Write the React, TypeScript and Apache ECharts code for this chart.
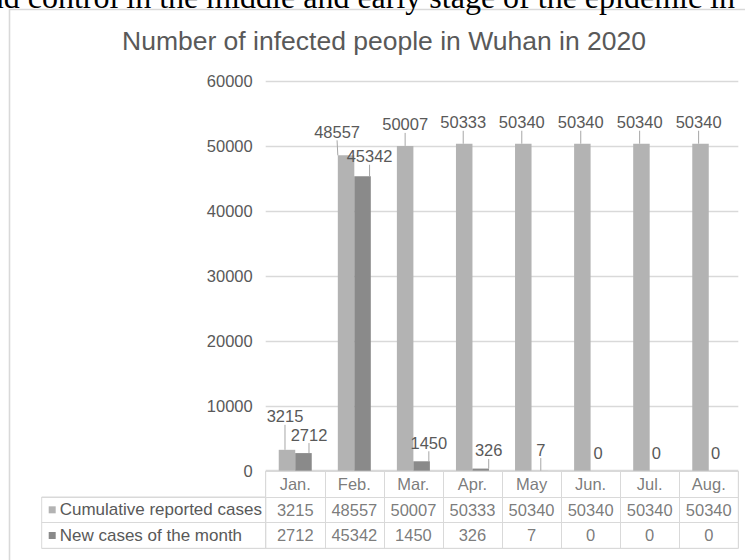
import React, { useEffect, useRef } from "react";
import * as echarts from "echarts";

// ---------- data ----------
const months = ["Jan.", "Feb.", "Mar.", "Apr.", "May", "Jun.", "Jul.", "Aug."];
const cumulativeCases = [3215, 48557, 50007, 50333, 50340, 50340, 50340, 50340];
const newCases = [2712, 45342, 1450, 326, 7, 0, 0, 0];
const seriesNames = ["Cumulative reported cases", "New cases of the month"];
const tableRows = ["month", "cumulative", "new"];
const yMin = 0;
const yMax = 60000;
const yInterval = 10000;
const chartTitle = "Number of infected people in Wuhan in 2020";
const pageTextAbove =
  "prevention and control in the middle and early stage of the epidemic in";

// ---------- layout-only label nudges (dx, dy) ----------
const cumLabelShift = [
  [-2, -20], [-9, -10], [0, -8], [-1, -8], [-1.5, -8], [-1.6, -8], [-1.8, -8], [-1.9, -8],
];
const newLabelShift = [
  [5.5, -5], [7, -6.5], [7.2, -5], [8, -4.6], [1, -7.6], [-0.8, -4.4], [-1.5, -4.4], [-1.3, -4.4],
];

const FONT = '"Liberation Sans", Arial, sans-serif';
const TXT = "#595959";
const BORDER = "#d9d9d9";
const CUM = "#b3b3b3";
const NEW = "#8a8a8a";
const LEADER = "#a6a6a6";

export default function App() {
  const ref = useRef<HTMLDivElement>(null);

  useEffect(() => {
    if (!ref.current) return;
    const chart = echarts.init(ref.current, null, { renderer: "svg" });

    const gridLeft = 265.7;
    const gridRight = 738.3;

    const tableTextSeries = [
      (i: number) => months[i],
      (i: number) => String(cumulativeCases[i]),
      (i: number) => String(newCases[i]),
    ].map((fmt, row) => ({
      type: "scatter",
      xAxisIndex: 1,
      yAxisIndex: 1,
      silent: true,
      symbolSize: 1,
      itemStyle: { color: "transparent" },
      data: months.map((_, i) => [i, row]),
      label: {
        show: true,
        position: "inside",
        color: TXT,
        fontSize: 16.5,
        fontFamily: FONT,
        formatter: (p: any) => fmt(p.dataIndex),
      },
      z: 5,
    }));

    const option: any = {
      animation: false,
      backgroundColor: "#ffffff",
      textStyle: { fontFamily: FONT },
      title: {
        text: chartTitle,
        left: 122,
        top: 27,
        padding: 0,
        textStyle: { fontSize: 26.5, fontWeight: "normal", color: TXT, fontFamily: FONT },
      },
      graphic: [
        {
          type: "rect",
          silent: true,
          shape: { x: 9.5, y: 9.5, width: 800, height: 600 },
          style: { fill: "none", stroke: BORDER, lineWidth: 1.6 },
        },
        {
          type: "text",
          silent: true,
          x: 735,
          y: -3,
          style: {
            text: pageTextAbove,
            fontFamily: '"Liberation Serif", "Times New Roman", serif',
            fontSize: 32,
            fill: "#000000",
            textAlign: "right",
            textVerticalAlign: "middle",
          },
        },
      ],
      grid: [
        { left: gridLeft, width: gridRight - gridLeft, top: 81, height: 389.7, containLabel: false },
        {
          left: gridLeft,
          width: gridRight - gridLeft,
          top: 471.2,
          height: 77.1,
          show: true,
          borderColor: BORDER,
          borderWidth: 1,
          backgroundColor: "transparent",
        },
        {
          left: 41.7,
          width: gridLeft - 41.7,
          top: 497,
          height: 51.3,
          show: true,
          borderColor: BORDER,
          borderWidth: 1,
          backgroundColor: "transparent",
        },
      ],
      xAxis: [
        {
          type: "category",
          gridIndex: 0,
          data: months,
          boundaryGap: true,
          axisLine: { show: false },
          axisTick: { show: false },
          axisLabel: { show: false },
          splitLine: { show: false },
        },
        {
          type: "category",
          gridIndex: 1,
          data: months,
          boundaryGap: true,
          axisLine: { show: false },
          axisTick: { show: false, interval: 0 },
          axisLabel: { show: false, interval: 0 },
          splitLine: { show: true, interval: 0, lineStyle: { color: BORDER, width: 1 } },
        },
        {
          type: "value",
          gridIndex: 2,
          show: false,
        },
      ],
      yAxis: [
        {
          type: "value",
          gridIndex: 0,
          min: yMin,
          max: yMax,
          interval: yInterval,
          axisLine: { show: false },
          axisTick: { show: false },
          axisLabel: {
            color: TXT,
            fontSize: 16.5,
            margin: 13,
            fontFamily: FONT,
            formatter: (v: number) => String(v),
          },
          splitLine: { lineStyle: { color: BORDER, width: 1.3 } },
        },
        {
          type: "category",
          gridIndex: 1,
          data: tableRows,
          inverse: true,
          boundaryGap: true,
          axisLine: { show: false },
          axisTick: { show: false, interval: 0 },
          axisLabel: { show: false, interval: 0 },
          splitLine: { show: true, interval: 0, lineStyle: { color: BORDER, width: 1 } },
        },
        {
          type: "category",
          gridIndex: 2,
          data: seriesNames,
          inverse: true,
          boundaryGap: true,
          axisLine: { show: false },
          axisTick: { show: false, interval: 0 },
          splitLine: { show: true, interval: 0, lineStyle: { color: BORDER, width: 1 } },
          axisLabel: {
            show: true,
            interval: 0,
            inside: true,
            margin: 7,
            formatter: (v: string, i: number) => `{s${i}|}{t|${v}}`,
            rich: {
              s0: { width: 7, height: 7, backgroundColor: CUM },
              s1: { width: 7, height: 7, backgroundColor: NEW },
              t: { fontSize: 17, color: TXT, fontFamily: FONT, padding: [0, 0, 0, 4] },
            },
          },
        },
      ],
      series: [
        {
          type: "bar",
          name: seriesNames[0],
          xAxisIndex: 0,
          yAxisIndex: 0,
          barWidth: 16.5,
          barGap: "0%",
          itemStyle: { color: CUM },
          data: cumulativeCases.map((v) => ({ value: v, labelLine: { show: v > 0 } })),
          label: {
            show: true,
            position: "top",
            distance: 5,
            color: TXT,
            fontSize: 16.5,
            fontFamily: FONT,
          },
          labelLine: { show: true, length2: 0, lineStyle: { color: LEADER, width: 1 } },
          labelLayout: (p: any) => ({
            dx: cumLabelShift[p.dataIndex][0],
            dy: cumLabelShift[p.dataIndex][1],
          }),
        },
        {
          type: "bar",
          name: seriesNames[1],
          xAxisIndex: 0,
          yAxisIndex: 0,
          barWidth: 16.5,
          barGap: "0%",
          itemStyle: { color: NEW },
          data: newCases.map((v) => ({ value: v, labelLine: { show: v > 0 } })),
          label: {
            show: true,
            position: "top",
            distance: 5,
            color: TXT,
            fontSize: 16.5,
            fontFamily: FONT,
          },
          labelLine: { show: true, length2: 0, lineStyle: { color: LEADER, width: 1 } },
          labelLayout: (p: any) => ({
            dx: newLabelShift[p.dataIndex][0],
            dy: newLabelShift[p.dataIndex][1],
          }),
        },
        ...tableTextSeries,
      ],
    };

    chart.setOption(option);
    return () => chart.dispose();
  }, []);

  return (
    <div
      ref={ref}
      style={{ position: "absolute", left: 0, top: 0, width: 745, height: 560 }}
    />
  );
}
